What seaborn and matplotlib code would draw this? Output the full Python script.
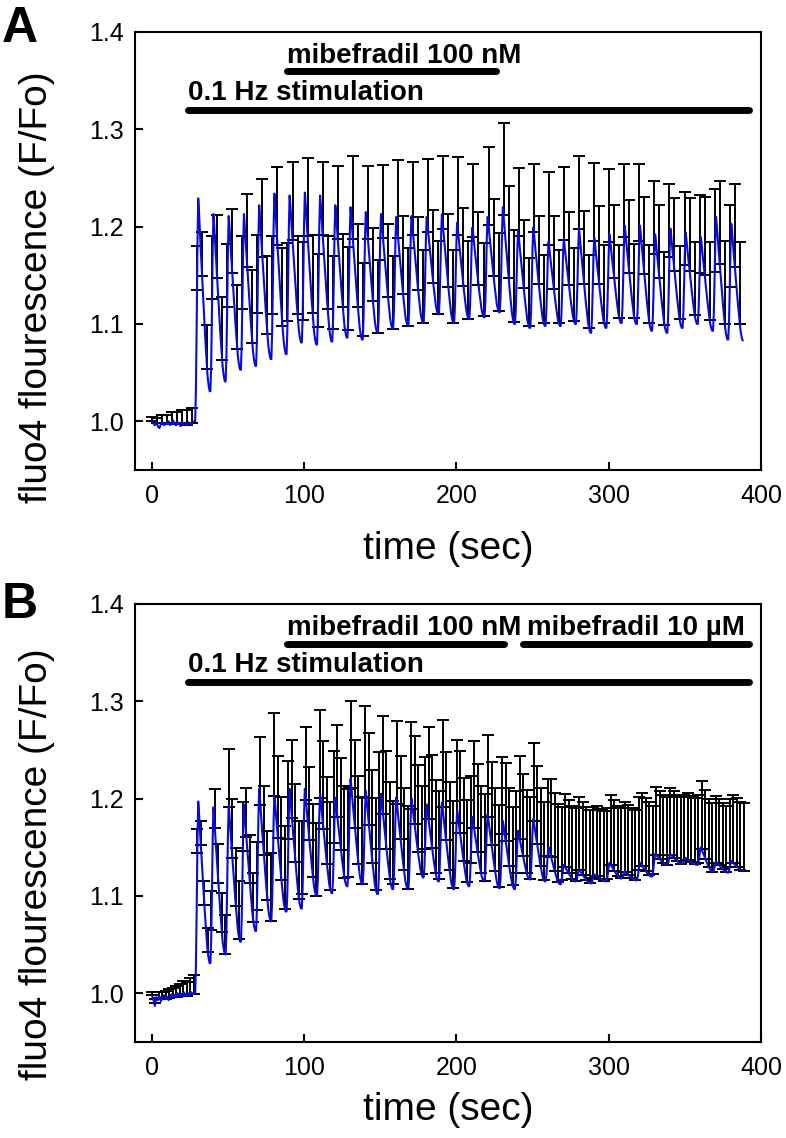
import numpy as np
import pandas as pd
import seaborn as sns
import matplotlib.pyplot as plt

# values, one per 0.1 Hz stimulus (stimuli at 28.5 s + 10 s * k)
peaks_a = [1.229, 1.213, 1.211, 1.213, 1.222, 1.234, 1.232, 1.235, 1.232, 1.222,
           1.220, 1.215, 1.213, 1.210, 1.211, 1.210, 1.213, 1.204, 1.199, 1.210,
           1.220, 1.196, 1.199, 1.184, 1.187, 1.198, 1.189, 1.192, 1.201, 1.201,
           1.192, 1.198, 1.194, 1.189, 1.210, 1.203]
troughs_a = [1.031, 1.041, 1.053, 1.057, 1.064, 1.069, 1.081, 1.079, 1.082, 1.086,
             1.084, 1.091, 1.095, 1.098, 1.101, 1.110, 1.101, 1.105, 1.107, 1.112,
             1.100, 1.096, 1.098, 1.098, 1.100, 1.091, 1.096, 1.101, 1.100, 1.093,
             1.091, 1.096, 1.100, 1.093, 1.084, 1.083]
sem_a = [0.045, 0.065, 0.065, 0.075, 0.08, 0.08, 0.08, 0.08, 0.075, 0.075,
         0.085, 0.075, 0.075, 0.08, 0.075, 0.075, 0.075, 0.08, 0.075, 0.08,
         0.095, 0.07, 0.07, 0.075, 0.075, 0.075, 0.08, 0.075, 0.075, 0.08,
         0.075, 0.075, 0.075, 0.08, 0.085, 0.085]
# baseline before stimulation, 1 s apart (0-28 s)
pre_a = [1.000, 0.998, 0.996, 0.999, 0.995, 0.993, 0.997, 0.999, 0.996, 0.998,
         0.997, 1.000, 0.996, 0.998, 1.001, 0.997, 0.996, 0.999, 0.998, 0.995,
         0.999, 0.997, 0.998, 0.996, 0.999, 0.998, 0.997, 0.999, 1.000]
pre_sem_a = [0.004, 0.006, 0.008, 0.009, 0.011, 0.012, 0.013, 0.015, 0.016]

peaks_b = [1.197, 1.191, 1.193, 1.194, 1.210, 1.203, 1.210, 1.210, 1.205, 1.201,
           1.220, 1.208, 1.205, 1.201, 1.200, 1.194, 1.196, 1.188, 1.181, 1.184,
           1.177, 1.167, 1.179, 1.150, 1.132, 1.127, 1.122, 1.134, 1.125, 1.134,
           1.143, 1.143, 1.139, 1.150, 1.135, 1.136]
troughs_b = [1.031, 1.040, 1.053, 1.064, 1.074, 1.084, 1.087, 1.100, 1.103, 1.110,
             1.112, 1.102, 1.107, 1.107, 1.119, 1.115, 1.107, 1.110, 1.115, 1.108,
             1.107, 1.117, 1.115, 1.112, 1.115, 1.113, 1.115, 1.118, 1.116, 1.120,
             1.132, 1.133, 1.132, 1.125, 1.124, 1.126]
sem_b = [0.025, 0.04, 0.06, 0.05, 0.07, 0.085, 0.08, 0.075, 0.09, 0.095,
         0.09, 0.095, 0.1, 0.085, 0.09, 0.095, 0.09, 0.085, 0.09, 0.085,
         0.08, 0.085, 0.08, 0.08, 0.075, 0.075, 0.072, 0.072, 0.072, 0.075,
         0.07, 0.068, 0.068, 0.07, 0.068, 0.07]
pre_b = [0.998, 0.994, 0.987, 0.996, 0.993, 0.997, 0.992, 0.995, 0.998, 0.994,
         0.996, 0.993, 0.997, 0.999, 0.995, 0.998, 0.996, 1.000, 0.997, 0.999,
         0.996, 1.001, 0.998, 0.997, 1.000, 0.998, 1.001, 0.999, 1.000]
pre_sem_b = [0.003, 0.004, 0.006, 0.007, 0.008, 0.009, 0.010, 0.011, 0.012,
             0.013, 0.015, 0.017, 0.019]

# shape of one transient (fraction of amplitude, 0.5 s steps)
rise_shape = [0.0, 0.15, 0.45, 0.8]
decay_shape = [1.0, 0.93, 0.84, 0.76, 0.68, 0.60, 0.52, 0.44, 0.36, 0.29,
               0.22, 0.15, 0.09, 0.05, 0.02, 0.0]
stim_start = 28.5
period = 10


def build_trace(pre, peaks, troughs):
    t = list(np.arange(len(pre), dtype=float))
    v = list(pre)
    prev = pre[-1]
    n_rise = len(rise_shape)
    for k, (p, tr) in enumerate(zip(peaks, troughs)):
        t0 = stim_start + period * k
        for i, f in enumerate(rise_shape):
            t.append(t0 + 0.5 * i)
            v.append(prev + (p - prev) * f)
        for i, f in enumerate(decay_shape):
            t.append(t0 + 0.5 * (n_rise + i))
            v.append(tr + (p - tr) * f)
        prev = tr
    return pd.DataFrame({'time': t, 'ratio': v})


def bar_data(trace, step, pre_sem, sem):
    bt = np.arange(0, 389, step)
    err = []
    n_pre = 0
    for x in bt:
        if x < 29:
            err.append(pre_sem[n_pre])
            n_pre += 1
        else:
            err.append(sem[min(int((x - stim_start) // period), len(sem) - 1)])
    bottom = np.interp(bt, trace['time'], trace['ratio'])
    return bt, bottom, np.array(err)


sns.set_style('ticks')
plt.rcParams['font.family'] = ['Liberation Sans', 'DejaVu Sans']
plt.rcParams['text.color'] = 'black'
plt.rcParams['axes.labelcolor'] = 'black'
plt.rcParams['xtick.color'] = 'black'
plt.rcParams['ytick.color'] = 'black'

fig = plt.figure(figsize=(7.86, 11.38), dpi=100)
ax_a = fig.add_axes([0.1718, 0.587, 0.7964, 0.3849])
ax_b = fig.add_axes([0.1718, 0.0844, 0.7964, 0.3849])

panels = [
    (ax_a, pre_a, peaks_a, troughs_a, sem_a, pre_sem_a, 3.3, 0.418, -0.18),
    (ax_b, pre_b, peaks_b, troughs_b, sem_b, pre_sem_b, 2.3, 0.406, -0.155),
]

for ax, pre, pk, tr, sem, pre_sem, step, ylab_y, xlab_y in panels:
    trace = build_trace(pre, pk, tr)
    bt, bottom, err = bar_data(trace, step, pre_sem, sem)
    ax.errorbar(bt, bottom, yerr=[np.zeros_like(err), err], fmt='none',
                ecolor='black', elinewidth=1.4, capsize=4.5, capthick=1.4, zorder=2)
    sns.lineplot(data=trace, x='time', y='ratio', ax=ax, color='#0a0adc',
                 lw=1.5, estimator=None, sort=False, zorder=3)

    ax.set_xlim(-11, 400)
    ax.set_ylim(0.95, 1.4)
    ax.set_xticks([0, 100, 200, 300, 400])
    ax.set_yticks([1.0, 1.1, 1.2, 1.3, 1.4])
    ax.set_yticklabels(['1.0', '1.1', '1.2', '1.3', '1.4'])
    ax.tick_params(direction='in', length=6, width=1.5, labelsize=18)
    ax.tick_params(axis='x', pad=10)
    ax.tick_params(axis='y', pad=8)
    for s in ax.spines.values():
        s.set_linewidth(1.5)
        s.set_color('black')

    ax.set_ylabel('fluo4 flourescence (F/Fo)', fontsize=28)
    ax.yaxis.set_label_coords(-0.128, ylab_y)
    ax.set_xlabel('time (sec)', fontsize=28)
    ax.xaxis.label.set_va('center')
    ax.xaxis.set_label_coords(0.5, xlab_y)

    # 0.1 Hz stimulation bar
    ax.plot([24, 392], [1.32, 1.32], color='black', lw=5, solid_capstyle='round')
    ax.text(24, 1.3305, '0.1 Hz stimulation', fontsize=20, fontweight='bold', va='baseline')

# drug application bars
ax_a.plot([89, 226], [1.36, 1.36], color='black', lw=5, solid_capstyle='round')
ax_a.text(89, 1.368, 'mibefradil 100 nM', fontsize=20, fontweight='bold', va='baseline')
ax_b.plot([89, 231.5], [1.359, 1.359], color='black', lw=5, solid_capstyle='round')
ax_b.text(89, 1.368, 'mibefradil 100 nM', fontsize=20, fontweight='bold', va='baseline')
ax_b.plot([244, 392], [1.359, 1.359], color='black', lw=5, solid_capstyle='round')
ax_b.text(246.5, 1.368, 'mibefradil 10 µM', fontsize=20, fontweight='bold', va='baseline')

fig.text(0.002, 0.995, 'A', fontsize=36, fontweight='bold', va='top', ha='left')
fig.text(0.002, 0.489, 'B', fontsize=36, fontweight='bold', va='top', ha='left')

plt.savefig('out.png', dpi=100)
